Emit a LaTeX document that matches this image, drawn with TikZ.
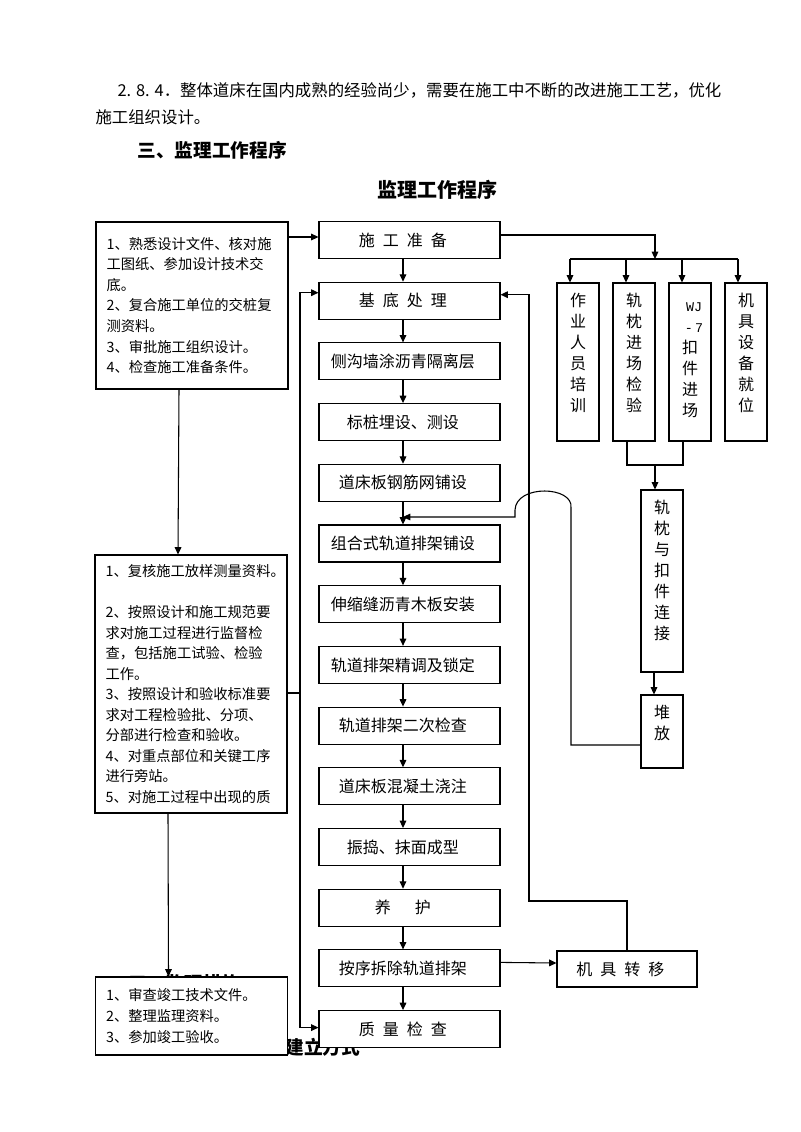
\documentclass[tikz,border=0pt]{standalone}
\usepackage{fontspec}
\setmainfont{Noto Sans CJK SC}
\newfontfamily\wjfont{Liberation Mono}
\usetikzlibrary{arrows.meta, calc}

\begin{document}
\begin{tikzpicture}[x=0.75pt, y=-0.75pt, line width=0.8pt,
  arr/.style={-{Triangle[length=5.5pt, width=5pt]}},
  plain/.style={anchor=west, inner sep=0pt},
  stepbox/.style={draw, fill=white, minimum width=135.75pt, minimum height=27.75pt, inner sep=0pt,
    font=\fontsize{12}{14}\selectfont, execute at end node={\hspace{10pt}}},
  notebox/.style={draw, fill=white, text width=128pt, align=left, inner xsep=8pt,
    font=\fontsize{10.7}{15.4}\selectfont},
  vbox/.style={draw, fill=white, minimum width=31.5pt, inner sep=0pt},
  vlab/.style={anchor=north, inner sep=0pt, align=center, yshift=-7.5pt,
    font=\fontsize{12}{15.75}\selectfont}]
\useasboundingbox[fill=white] (0,0) rectangle (800,1132);

% Draw page text
\node[plain, font=\fontsize{12.3}{14}\selectfont] (para1) at (117,90) {2. 8. 4．整体道床在国内成熟的经验尚少，需要在施工中不断的改进施工工艺，优化};
\node[plain, font=\fontsize{12.3}{14}\selectfont] (para2) at (95,117) {施工组织设计。};
\node[plain, font=\bfseries\fontsize{14}{16}\selectfont] (head) at (137,150) {三、监理工作程序};
\node[font=\bfseries\fontsize{15}{18}\selectfont] (title) at (437,190) {监理工作程序};

% Draw headings lying under the boxes
\node[plain, font=\bfseries\fontsize{14}{16}\selectfont] (hid1) at (128,983) {三、监理措施};
\node[plain, font=\bfseries\fontsize{14}{16}\selectfont] (hid2) at (285,1047) {建立方式};

% Draw main steps
\foreach \name/\txt [count=\i from 0] in {
  sg/{施\enspace 工\enspace 准\enspace 备},
  jd/{基\enspace 底\enspace 处\enspace 理},
  cg/侧沟墙涂沥青隔离层,
  bz/{标桩埋设、测设},
  dc/道床板钢筋网铺设,
  zh/组合式轨道排架铺设,
  ss/伸缩缝沥青木板安装,
  jt/轨道排架精调及锁定,
  ec/轨道排架二次检查,
  hn/道床板混凝土浇注,
  zd/{振捣、抹面成型},
  yh/{养\hspace{1.5em}护},
  cc/按序拆除轨道排架,
  zl/{质\enspace 量\enspace 检\enspace 查}}
  \node[stepbox] (\name) at (409.5, 240+60.7*\i) {\txt};
\foreach \a/\b in {sg/jd, jd/cg, cg/bz, bz/dc, dc/zh, zh/ss, ss/jt, jt/ec, ec/hn, hn/zd, zd/yh, yh/cc, cc/zl}
  \draw[arr] ($(\a.south)+(-6.5,0)$) -- ($(\b.north)+(-6.5,0)$);

% Draw notes on the left
\node[notebox, minimum height=125.25pt] (k1) at (192,305.5) {1、熟悉设计文件、核对施\\工图纸、参加设计技术交\\底。\\2、复合施工单位的交桩复\\测资料。\\3、审批施工组织设计。\\4、检查施工准备条件。};
\node[notebox, minimum height=193.5pt] (k2) at (191,684) {1、复核施工放样测量资料。\\[15.4pt]2、按照设计和施工规范要\\求对施工过程进行监督检\\查，包括施工试验、检验\\工作。\\3、按照设计和验收标准要\\求对工程检验批、分项、\\分部进行检查和验收。\\4、对重点部位和关键工序\\进行旁站。\\5、对施工过程中出现的质};
\node[notebox, minimum height=58.5pt] (k3) at (191.5,1016) {1、审查竣工技术文件。\\2、整理监理资料。\\3、参加竣工验收。};

% Draw side boxes
\node[vbox, minimum height=118.5pt, label={[vlab]north:{作\\业\\人\\员\\培\\训}}] (zy) at (578,362) {};
\node[vbox, minimum height=118.5pt, label={[vlab]north:{轨\\枕\\进\\场\\检\\验}}] (gz) at (634,362) {};
\node[vbox, minimum height=118.5pt, label={[vlab, yshift=-4pt]north:{\vphantom{扣}\hspace{6pt}{\wjfont\fontsize{10}{12}\selectfont WJ}\\\hspace{6pt}{\wjfont\fontsize{10}{12}\selectfont -\,7}\\扣\\件\\进\\场}}] (kj) at (690,362) {};
\node[vbox, minimum height=118.5pt, label={[vlab]north:{机\\具\\设\\备\\就\\位}}] (jj) at (746,362) {};
\node[vbox, minimum height=136.5pt, label={[vlab]north:{轨\\枕\\与\\扣\\件\\连\\接}}] (lj) at (662,581) {};
\node[vbox, minimum height=54.75pt, label={[vlab]north:{堆\\放}}] (df) at (662,731.5) {};
\node[stepbox, minimum width=105pt, minimum height=27pt] (jz) at (627,969) {机\enspace 具\enspace 转\enspace 移};

\coordinate (bar) at (655,259);
\coordinate (mg) at (655,465);
\coordinate (mj) at (403,517);
\coordinate (hr) at (571,508);
\coordinate (hl) at (515,510);
\coordinate (rb) at (529,901);
\coordinate (lv) at (300,693);

% Draw feeds to the side boxes
\draw[arr] ($(sg.east)+(0,-5)$) -| (bar);
\draw ($(zy.north |- bar)+(-8,0)$) -- ($(jj.north |- bar)+(-8,0)$);
\foreach \b in {zy,gz,kj,jj}
  \draw[arr] ($(\b.north |- bar)+(-8,0)$) -- ($(\b.north)+(-8,0)$);
\draw ($(gz.south)+(-7,0)$) |- ($(kj.south |- mg)+(-7,0)$) -- ($(kj.south)+(-7,0)$);
\draw[arr] (mg) -- ($(lj.north)+(-7,0)$);
\draw[arr] ($(lj.south)+(-8,0)$) -- ($(df.north)+(-8,0)$);

% Draw return from stacking, hopping over the loop line
\draw[arr] ($(df.west)+(0,13.5)$) -| (hr) .. controls (574,486) and (516,484) .. (hl) |- (mj);

% Draw machine transfer loop
\draw[arr] ($(cc.east)+(0,-6)$) -- ($(jz.west)+(0,-6)$);
\draw[arr] (jz.north) |- (rb) |- ($(jd.east)+(0,-6)$);

% Draw links of the notes
\draw[arr] ($(sg.west -| k1.east)+(0,-3)$) -- ($(sg.west)+(0,-3)$);
\draw[arr] ($(k1.south)+(-13,0)$) -- ($(k2.north)+(-13,0)$);
\draw[arr] ($(k2.south)+(-23,0)$) -- ($(k3.north)+(-23,0)$);
\draw (k2.east |- lv) -- (lv);
\draw[arr] (lv) |- ($(jd.west)+(0,-8)$);
\draw[arr] (lv) |- ($(zl.west)+(0,-1.5)$);
\end{tikzpicture}
\end{document}
